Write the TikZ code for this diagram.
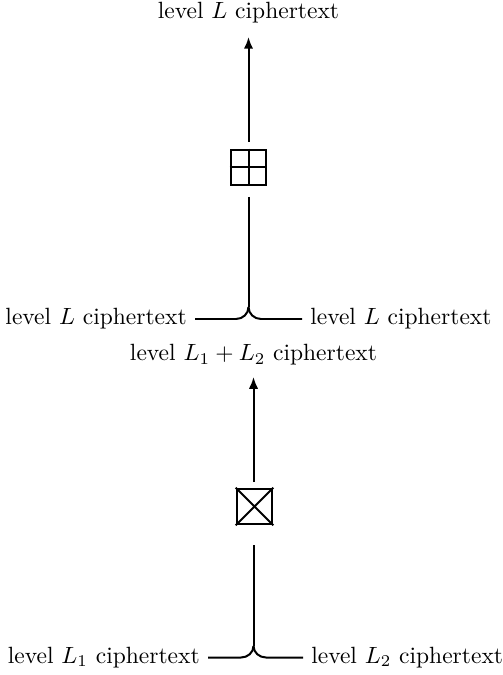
\documentclass[tikz,border=0pt]{standalone}
\usetikzlibrary{arrows.meta}
\begin{document}
\begin{tikzpicture}[x=0.4255pt,y=-0.4255pt,
  lbl/.style={font=\fontsize{10}{12}\selectfont},
  opbox/.style={draw,line width=0.85pt,minimum size=15.2pt,inner sep=0pt},
  conn/.style={line width=0.85pt},
  arr/.style={line width=0.85pt,-{Latex[length=5pt,width=4pt]}}]
\useasboundingbox (0,0) rectangle (502,675);
% ---- top diagram ----
\node[lbl] (t1) at (248.5,13) {level $L$ ciphertext};
\node[opbox] (b1) at (248.5,167.5) {};
\draw[conn] (b1.north) -- (b1.south) (b1.west) -- (b1.east);
\coordinate (a1s) at (248.5,142);
\coordinate (a1e) at (248.5,37);
\draw[arr] (a1s) -- (a1e);
\coordinate (v1) at (248.5,197);
\coordinate (j1) at (248.5,307);
\coordinate (hl1) at (195,319);
\coordinate (hr1) at (302,319);
\coordinate (cl1) at (236,319);
\coordinate (cr1) at (261,319);
\node[lbl,anchor=east] (l1) at (hl1) {level $L$ ciphertext};
\node[lbl,anchor=west] (r1) at (hr1) {level $L$ ciphertext};
\draw[conn] (v1) -- (j1);
\draw[conn] (l1.east) -- (cl1) to[out=0,in=-90] (j1);
\draw[conn] (r1.west) -- (cr1) to[out=180,in=-90] (j1);
% ---- bottom diagram ----
\node[lbl] (t2) at (253.5,355) {level $L_1 + L_2$ ciphertext};
\node[opbox] (b2) at (254.5,506.5) {};
\draw[conn] (b2.north west) -- (b2.south east) (b2.north east) -- (b2.south west);
\coordinate (a2s) at (253.5,482);
\coordinate (a2e) at (253.5,377);
\draw[arr] (a2s) -- (a2e);
\coordinate (v2) at (253.5,545);
\coordinate (j2) at (253.5,646);
\coordinate (hl2) at (208,657.5);
\coordinate (hr2) at (303,657.5);
\coordinate (cl2) at (241,657.5);
\coordinate (cr2) at (266,657.5);
\node[lbl,anchor=east] (l2) at (hl2) {level $L_1$ ciphertext};
\node[lbl,anchor=west] (r2) at (hr2) {level $L_2$ ciphertext};
\draw[conn] (v2) -- (j2);
\draw[conn] (l2.east) -- (cl2) to[out=0,in=-90] (j2);
\draw[conn] (r2.west) -- (cr2) to[out=180,in=-90] (j2);
\end{tikzpicture}
\end{document}
